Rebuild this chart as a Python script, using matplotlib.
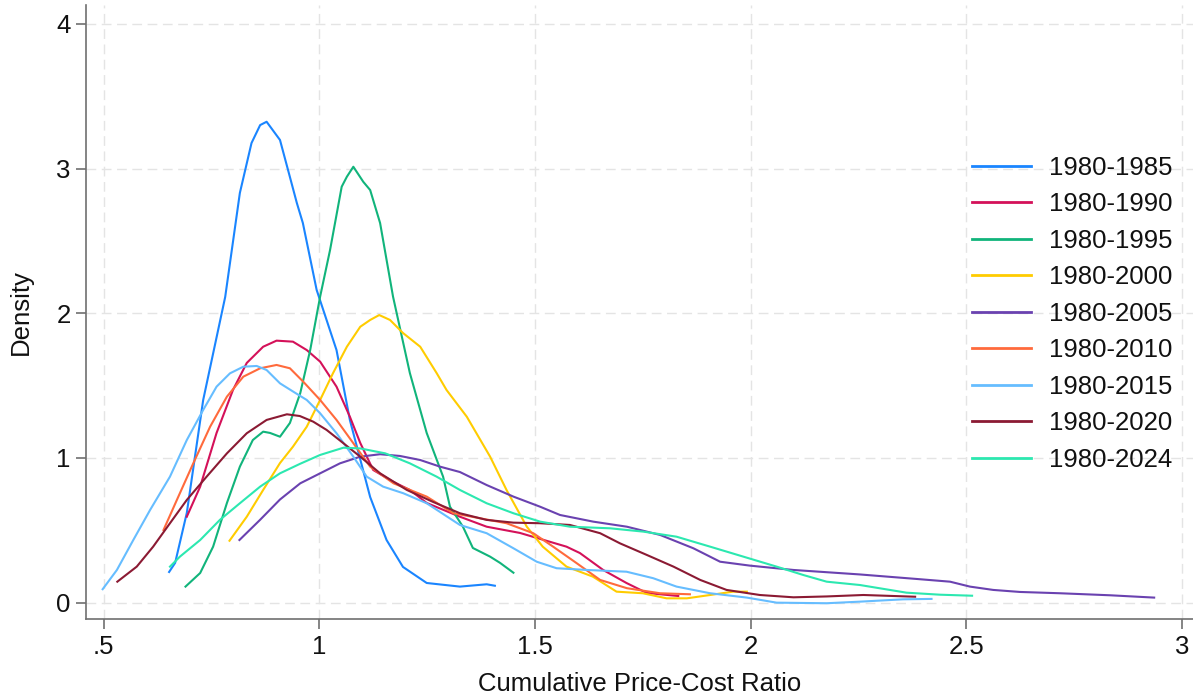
import matplotlib
matplotlib.use("Agg")
import matplotlib.pyplot as plt

plt.rcParams['font.family'] = ['Liberation Sans', 'DejaVu Sans']

labels = ["1980-1985", "1980-1990", "1980-1995", "1980-2000", "1980-2005",
          "1980-2010", "1980-2015", "1980-2020", "1980-2024"]
colors = ["#1a85ff", "#d41159", "#11b47b", "#ffcc00", "#6a42b0",
          "#ff6a3c", "#66bdff", "#8b1a33", "#2ce8b0"]

x_1985 = [0.652, 0.666, 0.693, 0.731, 0.782, 0.816, 0.843, 0.863, 0.878, 0.909, 0.932, 0.948,
          0.962, 0.994, 1.040, 1.071, 1.118, 1.156, 1.194, 1.249, 1.326, 1.388, 1.407]
y_1985 = [0.212, 0.275, 0.620, 1.401, 2.113, 2.832, 3.177, 3.301, 3.324, 3.198, 2.942, 2.763,
          2.624, 2.161, 1.746, 1.262, 0.730, 0.433, 0.247, 0.136, 0.111, 0.127, 0.117]

x_1990 = [0.693, 0.724, 0.762, 0.800, 0.832, 0.870, 0.901, 0.939, 0.971, 1.002, 1.040, 1.071, 1.095,
          1.125, 1.171, 1.210, 1.249, 1.326, 1.388, 1.465, 1.573, 1.604, 1.658, 1.712, 1.759, 1.832]
y_1990 = [0.594, 0.802, 1.173, 1.470, 1.657, 1.769, 1.811, 1.804, 1.746, 1.666, 1.493, 1.285, 1.104,
          0.917, 0.836, 0.779, 0.689, 0.594, 0.525, 0.482, 0.387, 0.343, 0.226, 0.136, 0.067, 0.046]

x_1995 = [0.690, 0.724, 0.754, 0.786, 0.816, 0.846, 0.870, 0.886, 0.909, 0.932, 0.956, 0.979, 1.002,
          1.025, 1.052, 1.064, 1.079, 1.102, 1.118, 1.141, 1.171, 1.210, 1.249, 1.287, 1.303, 1.333,
          1.356, 1.396, 1.419, 1.450]
y_1995 = [0.111, 0.205, 0.387, 0.689, 0.940, 1.124, 1.182, 1.173, 1.147, 1.242, 1.449, 1.746, 2.115,
          2.437, 2.875, 2.944, 3.013, 2.909, 2.852, 2.624, 2.115, 1.587, 1.173, 0.871, 0.663, 0.525,
          0.378, 0.318, 0.275, 0.207]

x_2000 = [0.792, 0.832, 0.870, 0.909, 0.939, 0.971, 1.002, 1.032, 1.064, 1.095, 1.118, 1.139, 1.164,
          1.194, 1.234, 1.272, 1.295, 1.342, 1.396, 1.434, 1.481, 1.518, 1.573, 1.634, 1.689, 1.750,
          1.805, 1.852, 1.906, 1.959, 1.991]
y_2000 = [0.428, 0.594, 0.779, 0.965, 1.078, 1.216, 1.401, 1.587, 1.769, 1.907, 1.954, 1.988, 1.954,
          1.864, 1.769, 1.587, 1.470, 1.285, 1.009, 0.779, 0.525, 0.387, 0.249, 0.180, 0.076, 0.065,
          0.030, 0.030, 0.053, 0.076, 0.076]

x_2005 = [0.815, 0.863, 0.909, 0.956, 1.002, 1.048, 1.095, 1.141, 1.187, 1.234, 1.280, 1.326, 1.388,
          1.450, 1.512, 1.558, 1.635, 1.713, 1.790, 1.867, 1.929, 1.998, 2.099, 2.253, 2.392, 2.462,
          2.508, 2.562, 2.624, 2.717, 2.833, 2.935]
y_2005 = [0.433, 0.573, 0.713, 0.825, 0.894, 0.963, 1.009, 1.026, 1.014, 0.986, 0.940, 0.903, 0.813,
          0.733, 0.663, 0.606, 0.560, 0.525, 0.468, 0.376, 0.283, 0.256, 0.226, 0.195, 0.162, 0.145,
          0.111, 0.088, 0.074, 0.065, 0.051, 0.035]

x_2010 = [0.639, 0.670, 0.708, 0.747, 0.786, 0.824, 0.863, 0.901, 0.932, 0.963, 1.002, 1.040, 1.079,
          1.118, 1.172, 1.249, 1.311, 1.373, 1.434, 1.496, 1.542, 1.597, 1.651, 1.713, 1.790, 1.859]
y_2010 = [0.502, 0.710, 0.963, 1.216, 1.424, 1.562, 1.620, 1.643, 1.620, 1.527, 1.401, 1.263, 1.102,
          0.940, 0.825, 0.733, 0.618, 0.583, 0.549, 0.480, 0.387, 0.272, 0.157, 0.100, 0.065, 0.058]

x_2015 = [0.498, 0.531, 0.569, 0.608, 0.654, 0.693, 0.731, 0.762, 0.793, 0.824, 0.855, 0.878, 0.909,
          0.940, 0.971, 1.002, 1.040, 1.079, 1.110, 1.148, 1.195, 1.249, 1.326, 1.388, 1.450, 1.504,
          1.550, 1.620, 1.712, 1.774, 1.828, 1.906, 1.991, 2.060, 2.176, 2.253, 2.353, 2.419]
y_2015 = [0.093, 0.226, 0.433, 0.641, 0.871, 1.124, 1.332, 1.493, 1.585, 1.631, 1.636, 1.608, 1.516,
          1.458, 1.401, 1.309, 1.171, 1.009, 0.871, 0.802, 0.756, 0.687, 0.537, 0.480, 0.376, 0.283,
          0.238, 0.226, 0.214, 0.169, 0.111, 0.065, 0.035, 0.000, -0.004, 0.007, 0.023, 0.026]

x_2020 = [0.532, 0.577, 0.615, 0.654, 0.693, 0.739, 0.786, 0.832, 0.878, 0.925, 0.955, 0.986, 1.017,
          1.056, 1.095, 1.141, 1.203, 1.264, 1.326, 1.388, 1.450, 1.512, 1.581, 1.651, 1.697, 1.759,
          1.821, 1.883, 1.944, 2.021, 2.099, 2.176, 2.261, 2.381]
y_2020 = [0.145, 0.249, 0.387, 0.549, 0.710, 0.871, 1.032, 1.171, 1.263, 1.302, 1.290, 1.251, 1.194,
          1.102, 1.009, 0.894, 0.779, 0.696, 0.618, 0.572, 0.553, 0.549, 0.537, 0.480, 0.410, 0.330,
          0.249, 0.157, 0.088, 0.053, 0.037, 0.043, 0.053, 0.041]

x_2024 = [0.654, 0.677, 0.724, 0.770, 0.816, 0.863, 0.909, 0.955, 1.002, 1.056, 1.095, 1.153, 1.210,
          1.272, 1.326, 1.388, 1.450, 1.512, 1.581, 1.674, 1.751, 1.828, 1.906, 1.983, 2.060, 2.122,
          2.176, 2.253, 2.361, 2.439, 2.513]
y_2024 = [0.249, 0.318, 0.433, 0.573, 0.687, 0.802, 0.894, 0.959, 1.021, 1.071, 1.066, 1.032, 0.963,
          0.871, 0.779, 0.687, 0.618, 0.560, 0.525, 0.514, 0.491, 0.456, 0.387, 0.318, 0.249, 0.191,
          0.145, 0.122, 0.069, 0.055, 0.048]

xs = [x_1985, x_1990, x_1995, x_2000, x_2005, x_2010, x_2015, x_2020, x_2024]
ys = [y_1985, y_1990, y_1995, y_2000, y_2005, y_2010, y_2015, y_2020, y_2024]

x_ticks = [0.5, 1, 1.5, 2, 2.5, 3]
x_ticklabels = [".5", "1", "1.5", "2", "2.5", "3"]
y_ticks = [0, 1, 2, 3, 4]
y_ticklabels = ["0", "1", "2", "3", "4"]

W, H = 1193, 696
fig = plt.figure(figsize=(W / 100, H / 100), dpi=100)
ax = fig.add_axes([86 / W, 76.7 / H, (W - 86) / W, (619.3 - 5) / H])

for x, y, c, lab in zip(xs, ys, colors, labels):
    ax.plot(x, y, color=c, lw=1.5, label=lab, solid_joinstyle='round', zorder=3)

ax.set_xlim(0.4594, 3.025)
ax.set_ylim(-0.115, 4.131)
ax.set_xticks(x_ticks)
ax.set_xticklabels(x_ticklabels)
ax.set_yticks(y_ticks)
ax.set_yticklabels(y_ticklabels)

ax.grid(True, color="#e4e4e4", lw=1.0, linestyle=(0, (7, 4)), zorder=0)
for s in ["top", "right"]:
    ax.spines[s].set_visible(False)
for s in ["left", "bottom"]:
    ax.spines[s].set_color("#707070")
    ax.spines[s].set_linewidth(1.2)
ax.tick_params(axis='both', direction='out', length=7, width=1.2, color="#707070",
               labelsize=18.5, labelcolor="#111111", pad=4)

ax.set_xlabel("Cumulative Price-Cost Ratio", fontsize=18.5, color="#111111", labelpad=10)
ax.set_ylabel("Density", fontsize=18.5, color="#111111", labelpad=17)

leg = ax.legend(loc='center left', bbox_to_anchor=(972 / W, (H - 313.8) / H),
                bbox_transform=fig.transFigure, frameon=False, fontsize=18.5,
                handlelength=2.3, handletextpad=0.7, labelspacing=0.485,
                borderpad=0, borderaxespad=0)
for line in leg.get_lines():
    line.set_linewidth(2.0)
for t in leg.get_texts():
    t.set_color("#111111")

fig.savefig("out.png", dpi=100, facecolor="white")
